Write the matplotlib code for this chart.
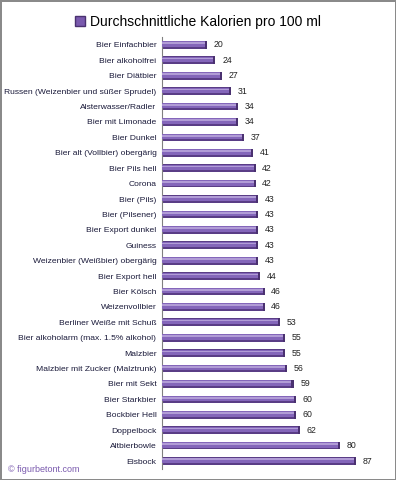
import numpy as np
import matplotlib.pyplot as plt
from matplotlib.patches import Patch

drinks = [
    "Bier Einfachbier",
    "Bier alkoholfrei",
    "Bier Diätbier",
    "Russen (Weizenbier und süßer Sprudel)",
    "Alsterwasser/Radler",
    "Bier mit Limonade",
    "Bier Dunkel",
    "Bier alt (Vollbier) obergärig",
    "Bier Pils hell",
    "Corona",
    "Bier (Pils)",
    "Bier (Pilsener)",
    "Bier Export dunkel",
    "Guiness",
    "Weizenbier (Weißbier) obergärig",
    "Bier Export hell",
    "Bier Kölsch",
    "Weizenvollbier",
    "Berliner Weiße mit Schuß",
    "Bier alkoholarm (max. 1.5% alkohol)",
    "Malzbier",
    "Malzbier mit Zucker (Malztrunk)",
    "Bier mit Sekt",
    "Bier Starkbier",
    "Bockbier Hell",
    "Doppelbock",
    "Altbierbowle",
    "Eisbock",
]
kcal = [20, 24, 27, 31, 34, 34, 37, 41, 42, 42, 43, 43, 43, 43, 43, 44, 46, 46,
        53, 55, 55, 56, 59, 60, 60, 62, 80, 87]

legend_label = "Durchschnittliche Kalorien pro 100 ml"

plt.rcParams["font.family"] = ["Liberation Sans", "DejaVu Sans"]

fig = plt.figure(figsize=(3.96, 4.8), dpi=100)
fig.patch.set_edgecolor("#8a8a8a")
fig.patch.set_linewidth(2)
ax = fig.add_axes([0.409, 0.0235, 0.563, 0.899])

y = np.arange(len(drinks))
h = 0.5
# fake the cylinder look with stacked layers
ax.barh(y, kcal, height=h, color="#5a3d86", zorder=2)
ax.barh(y - h * 0.1, kcal, height=h * 0.7, color="#8466ba", zorder=3)
ax.barh(y - h * 0.22, kcal, height=h * 0.22, color="#b19cd6", zorder=4)
ax.barh(y, [0.9] * len(kcal), left=np.array(kcal) - 0.9, height=h,
        color="#4a3170", zorder=5)

for yi, v in zip(y, kcal):
    ax.text(v + 3, yi, str(v), va="center", ha="left", fontsize=6.3, color="#222222")

ax.set_ylim(len(drinks) - 0.5, -0.5)
ax.set_xlim(0, 100)
ax.set_yticks(y)
ax.set_yticklabels(drinks, fontsize=6.1, color="#1a1a3a")
ax.tick_params(axis="y", length=0, pad=4)
ax.set_xticks([])
for s in ["top", "right", "bottom"]:
    ax.spines[s].set_visible(False)
ax.spines["left"].set_color("#808080")
ax.spines["left"].set_linewidth(0.8)

fig.legend(handles=[Patch(facecolor="#7a5aae", edgecolor="#4a3170")],
           labels=[legend_label], loc="upper center", bbox_to_anchor=(0.5, 0.995),
           frameon=False, fontsize=10, handlelength=0.7, handleheight=0.7,
           handletextpad=0.4)

fig.text(0.02, 0.022, "© figurbetont.com", fontsize=6.5, color="#7a5aae",
         ha="left", va="center")

fig.savefig("out.png", dpi=100, edgecolor=fig.get_edgecolor())
